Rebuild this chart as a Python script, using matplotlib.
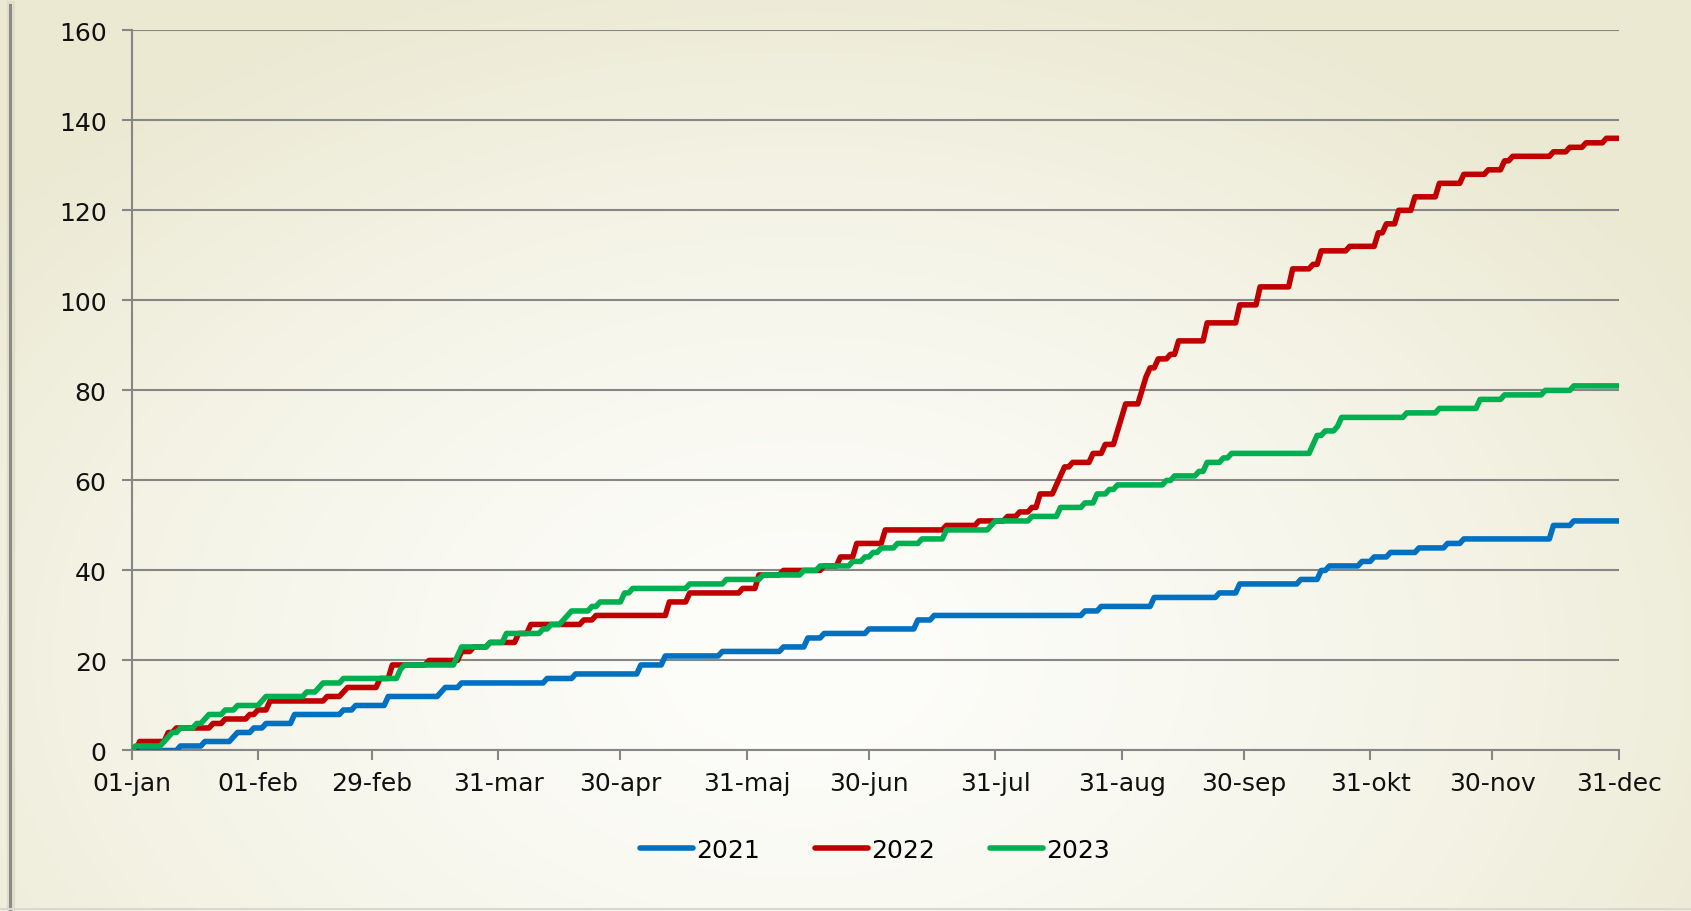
import numpy as np
import matplotlib.pyplot as plt
from matplotlib.lines import Line2D

# tick positions (day of a leap year) and labels
tick_days = [0, 31, 59, 90, 120, 151, 181, 212, 243, 273, 304, 334, 365]
tick_labels = ['01-jan', '01-feb', '29-feb', '31-mar', '30-apr', '31-maj', '30-jun',
               '31-jul', '31-aug', '30-sep', '31-okt', '30-nov', '31-dec']

# (day, cumulative count) - count reached on that day
ev_2021 = [(0, 0), (12, 1), (18, 2), (25, 3), (26, 4), (30, 5), (33, 6), (40, 8), (52, 9),
           (55, 10), (63, 12), (76, 13), (77, 14), (81, 15), (102, 16), (109, 17), (125, 19),
           (131, 21), (145, 22), (160, 23), (166, 25), (170, 26), (181, 27), (193, 29),
           (197, 30), (234, 31), (238, 32), (251, 34), (267, 35), (272, 37), (287, 38),
           (292, 40), (294, 41), (302, 42), (305, 43), (309, 44), (316, 45), (323, 46),
           (327, 47), (349, 50), (354, 51)]
ev_2022 = [(0, 0), (2, 2), (9, 4), (11, 5), (20, 6), (23, 7), (29, 8), (31, 9), (34, 11),
           (48, 12), (52, 13), (53, 14), (61, 16), (64, 19), (73, 20), (81, 22), (84, 23),
           (88, 24), (95, 26), (98, 28), (111, 29), (114, 30), (132, 33), (137, 35), (150, 36),
           (154, 39), (160, 40), (170, 41), (174, 43), (178, 46), (185, 49), (200, 50),
           (208, 51), (215, 52), (218, 53), (221, 54), (223, 57), (227, 59), (228, 61),
           (229, 63), (231, 64), (236, 66), (239, 68), (242, 71), (243, 74), (244, 77),
           (248, 80), (249, 83), (250, 85), (252, 87), (255, 88), (257, 91), (264, 95),
           (272, 99), (277, 103), (285, 107), (290, 108), (292, 111), (299, 112), (306, 115),
           (308, 117), (311, 120), (315, 123), (321, 126), (327, 128), (333, 129), (337, 131),
           (339, 132), (349, 133), (353, 134), (357, 135), (362, 136)]
ev_2023 = [(0, 0), (1, 1), (8, 2), (9, 3), (10, 4), (12, 5), (16, 6), (18, 7), (19, 8),
           (23, 9), (26, 10), (32, 11), (33, 12), (43, 13), (46, 14), (47, 15), (52, 16),
           (66, 18), (67, 19), (80, 21), (81, 23), (88, 24), (92, 26), (101, 27), (103, 28),
           (106, 29), (107, 30), (108, 31), (113, 32), (115, 33), (121, 35), (123, 36),
           (137, 37), (146, 38), (155, 39), (165, 40), (169, 41), (177, 42), (180, 43),
           (182, 44), (184, 45), (188, 46), (194, 47), (200, 49), (211, 50), (212, 51),
           (221, 52), (228, 54), (234, 55), (237, 57), (240, 58), (242, 59), (254, 60),
           (256, 61), (262, 62), (264, 64), (268, 65), (270, 66), (290, 68), (291, 70),
           (293, 71), (296, 72), (297, 74), (313, 75), (321, 76), (331, 78), (337, 79),
           (347, 80), (354, 81)]

years = ['2021', '2022', '2023']
colors = ['#0070C0', '#C00000', '#00B050']


def daily(events):
    vals = np.zeros(366)
    for d, v in events:
        vals[d:] = v
    return vals


days = np.arange(366)

fig = plt.figure(figsize=(16.91, 9.12), dpi=100)

# background: soft radial gradient
bg = fig.add_axes([0, 0, 1, 1], zorder=-10)
yy, xx = np.mgrid[0:912, 0:1691]
r = np.sqrt(((xx - 800) / 1050.0) ** 2 + ((yy - 660) / 720.0) ** 2)
t = np.clip(r, 0, 1) ** 1.5
c0 = np.array([253, 253, 250]) / 255.0
c1 = np.array([235, 233, 210]) / 255.0
img = c0[None, None, :] * (1 - t[..., None]) + c1[None, None, :] * t[..., None]
bg.imshow(img, aspect='auto', extent=[0, 1, 0, 1])
bg.axis('off')

# slide frame lines
fig.add_artist(Line2D([0.0065, 0.0065], [0.0, 0.993], transform=fig.transFigure,
                      color='#E0DECB', lw=6))
fig.add_artist(Line2D([0.0062, 0.0062], [0.0, 0.993], transform=fig.transFigure,
                      color='#8A8A86', lw=2.2))
fig.add_artist(Line2D([0.0, 1.0], [0.002, 0.002], transform=fig.transFigure,
                      color='#D8D8D0', lw=1.5))

ax = fig.add_axes([0.0778, 0.176, 0.8794, 0.7897])
ax.patch.set_alpha(0)

for yr, ev, col in zip(years, [ev_2021, ev_2022, ev_2023], colors):
    ax.plot(days, daily(ev), color=col, lw=4.0, label=yr,
            solid_joinstyle='round', solid_capstyle='round', zorder=3)

ax.set_xlim(0, 365)
ax.set_ylim(0, 160)
ax.set_yticks(range(0, 161, 20))
ax.set_xticks(tick_days)
ax.set_xticklabels(tick_labels)
ax.grid(axis='y', color='#868686', lw=1.5)
ax.set_axisbelow(True)

for s in ['top', 'right']:
    ax.spines[s].set_visible(False)
for s in ['left', 'bottom']:
    ax.spines[s].set_color('#868686')
    ax.spines[s].set_linewidth(1.5)

ax.tick_params(axis='both', colors='#868686', width=1.5, length=7, labelsize=18,
               labelcolor='#111111')
ax.tick_params(axis='y', pad=11)
ax.tick_params(axis='x', pad=8)

leg = ax.legend(loc='upper center', bbox_to_anchor=(0.5, -0.09), ncol=3, frameon=False,
                fontsize=18, handlelength=2.1, handletextpad=0.15, columnspacing=2.2)
for h in leg.get_lines():
    h.set_solid_capstyle('round')

plt.savefig('out.png', dpi=100)
